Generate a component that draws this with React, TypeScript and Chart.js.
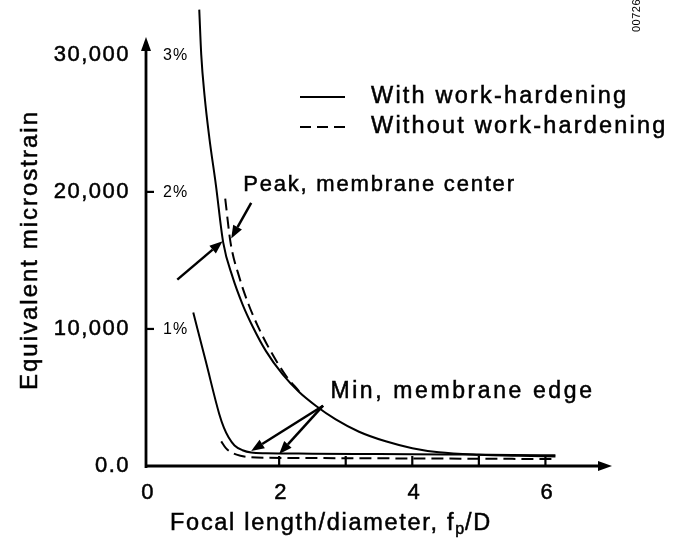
import { useEffect, useRef } from "react";
import { Chart, registerables } from "chart.js";

Chart.register(...registerables);

// Peak strain at membrane center, with work-hardening (solid)
const peakWithX = [0.8, 0.83, 0.88, 0.95, 1.05, 1.16, 1.3, 1.45, 1.6, 1.8, 2.05, 2.3, 2.55, 2.85, 3.2, 3.6, 4.0, 4.4, 5.0, 5.6, 6.15];
const peakWithY = [33300, 30000, 27000, 24000, 20500, 16300, 13800, 11800, 10200, 8400, 6700, 5400, 4400, 3400, 2500, 1800, 1300, 1000, 820, 740, 700];

// Peak strain at membrane center, without work-hardening (dashed)
const peakWithoutX = [1.19, 1.27, 1.4, 1.54, 1.68, 1.87, 2.1, 2.3];
const peakWithoutY = [19500, 16300, 13800, 11800, 10200, 8400, 6600, 5450];

// Minimum strain at membrane edge, with work-hardening (solid)
const minWithX = [0.71, 0.9, 1.1, 1.17, 1.24, 1.33, 1.45, 1.58, 1.8, 2.5, 3.5, 4.5, 5.5, 6.15];
const minWithY = [11200, 7600, 3800, 2800, 2100, 1500, 1150, 980, 930, 900, 870, 840, 810, 780];

// Minimum strain at membrane edge, without work-hardening (dashed)
const minWithoutX = [1.13, 1.2, 1.3, 1.42, 1.55, 1.8, 2.5, 3.5, 4.5, 5.5, 6.15];
const minWithoutY = [1800, 1300, 950, 750, 650, 600, 580, 560, 540, 520, 500];

const xTickValues = [0, 2, 4, 6];
const xTickLabels = ["0", "2", "4", "6"];
const xMarkValues = [2, 3, 4, 5, 6];
const yTickValues = [0, 10000, 20000, 30000];
const yTickLabels = ["0.0", "10,000", "20,000", "30,000"];
const strainPercentValues = [10000, 20000, 30000];
const strainPercentLabels = ["1%", "2%", "3%"];
const seriesNames = ["With work-hardening", "Without work-hardening"];
const peakLabel = "Peak, membrane center";
const minLabel = "Min, membrane edge";
const yTitle = "Equivalent microstrain";
const figureCode = "00726";

const FONT = '"Liberation Sans", Arial, Helvetica, sans-serif';
const INK = "#000";

function pts(xs: number[], ys: number[]) {
  return xs.map((x, i) => ({ x, y: ys[i] }));
}

function setFont(ctx: CanvasRenderingContext2D, size: number, spacing = 2) {
  ctx.font = `${size}px ${FONT}`;
  (ctx as any).letterSpacing = `${spacing}px`;
}

// filled text with a hairline outline so the strokes read a little heavier
function inkText(ctx: CanvasRenderingContext2D, text: string, x: number, y: number) {
  ctx.fillText(text, x, y);
  ctx.lineWidth = 0.5;
  ctx.setLineDash([]);
  ctx.strokeText(text, x, y);
}

function arrow(
  ctx: CanvasRenderingContext2D,
  x1: number, y1: number, x2: number, y2: number,
  head = 13, half = 5, width = 2.5
) {
  const a = Math.atan2(y2 - y1, x2 - x1);
  const bx = x2 - head * Math.cos(a);
  const by = y2 - head * Math.sin(a);
  ctx.strokeStyle = INK;
  ctx.fillStyle = INK;
  ctx.lineWidth = width;
  ctx.setLineDash([]);
  ctx.beginPath();
  ctx.moveTo(x1, y1);
  ctx.lineTo(bx, by);
  ctx.stroke();
  ctx.beginPath();
  ctx.moveTo(x2, y2);
  ctx.lineTo(bx + half * Math.sin(a), by - half * Math.cos(a));
  ctx.lineTo(bx - half * Math.sin(a), by + half * Math.cos(a));
  ctx.closePath();
  ctx.fill();
}

const annotations = {
  id: "strainAnnotations",
  beforeDraw(chart: any) {
    const { ctx, width, height } = chart;
    ctx.save();
    ctx.fillStyle = "#fff";
    ctx.fillRect(0, 0, width, height);
    ctx.restore();
  },
  afterDraw(chart: any) {
    const ctx: CanvasRenderingContext2D = chart.ctx;
    const xs = chart.scales.x;
    const ys = chart.scales.y;
    const px = (v: number) => xs.getPixelForValue(v);
    const py = (v: number) => ys.getPixelForValue(v);
    const x0 = px(0);
    const y0 = py(0);

    ctx.save();
    ctx.strokeStyle = INK;
    ctx.fillStyle = INK;
    ctx.lineCap = "butt";

    // axes with arrow heads
    arrow(ctx, x0, y0 + 2, x0, py(31300), 14, 5, 2.8);
    arrow(ctx, x0 - 1, y0, px(7), y0, 14, 5, 2.8);

    // x marks rising from the axis
    ctx.lineWidth = 2.2;
    xMarkValues.forEach((v) => {
      ctx.beginPath();
      ctx.moveTo(px(v), y0);
      ctx.lineTo(px(v), y0 - 10);
      ctx.stroke();
    });
    // y marks to the right of the axis
    [10000, 20000].forEach((v) => {
      ctx.beginPath();
      ctx.moveTo(x0, py(v));
      ctx.lineTo(x0 + 8, py(v));
      ctx.stroke();
    });

    // tick labels
    setFont(ctx, 22, 1.5);
    ctx.textAlign = "right";
    ctx.textBaseline = "middle";
    yTickValues.forEach((v, i) => inkText(ctx, yTickLabels[i], x0 - 16, py(v)));
    ctx.textAlign = "center";
    xTickValues.forEach((v, i) => inkText(ctx, xTickLabels[i], px(v) + 2, y0 + 27));

    // strain percentage labels
    setFont(ctx, 16, 1);
    ctx.textAlign = "left";
    strainPercentValues.forEach((v, i) => ctx.fillText(strainPercentLabels[i], x0 + 17, py(v) + 1));

    // axis titles
    setFont(ctx, 24, 2);
    ctx.textBaseline = "middle";
    ctx.save();
    ctx.translate(30, 250);
    ctx.rotate(-Math.PI / 2);
    ctx.textAlign = "center";
    inkText(ctx, yTitle, 0, 0);
    ctx.restore();

    const t1 = "Focal length/diameter, f";
    const t2 = "p";
    const t3 = "/D";
    setFont(ctx, 23.5, 1.7);
    const w1 = ctx.measureText(t1).width;
    const w3 = ctx.measureText(t3).width;
    setFont(ctx, 16, 1);
    const w2 = ctx.measureText(t2).width;
    let tx = 331 - (w1 + w2 + w3) / 2;
    ctx.textAlign = "left";
    setFont(ctx, 23.5, 1.7);
    inkText(ctx, t1, tx, 524);
    tx += w1;
    setFont(ctx, 16, 1);
    inkText(ctx, t2, tx, 530);
    tx += w2;
    setFont(ctx, 23.5, 1.7);
    inkText(ctx, t3, tx, 524);

    // legend
    ctx.lineWidth = 2;
    ctx.setLineDash([]);
    ctx.beginPath();
    ctx.moveTo(300, 97);
    ctx.lineTo(345, 97);
    ctx.stroke();
    ctx.setLineDash([11, 6]);
    ctx.beginPath();
    ctx.moveTo(300, 127);
    ctx.lineTo(345, 127);
    ctx.stroke();
    ctx.setLineDash([]);
    setFont(ctx, 23.5, 2.2);
    ctx.textAlign = "left";
    inkText(ctx, seriesNames[0], 371, 97);
    inkText(ctx, seriesNames[1], 371, 127);

    // curve call-outs
    setFont(ctx, 22, 1.8);
    inkText(ctx, peakLabel, px(1.46), py(20500));
    setFont(ctx, 23, 2.6);
    inkText(ctx, minLabel, px(2.77), py(5400));
    arrow(ctx, px(0.47), py(13600), px(1.15), py(16400));
    arrow(ctx, px(1.58), py(19200), px(1.28), py(16600));
    arrow(ctx, px(2.66), py(4400), px(1.58), py(1100));
    arrow(ctx, px(2.66), py(4400), px(2.0), py(880));

    // figure code
    ctx.save();
    setFont(ctx, 11, 0.5);
    ctx.translate(640, 32);
    ctx.rotate(-Math.PI / 2);
    ctx.textAlign = "left";
    ctx.textBaseline = "alphabetic";
    ctx.fillText(figureCode, 0, 0);
    ctx.restore();

    ctx.restore();
  },
};

export default function App() {
  const ref = useRef<HTMLCanvasElement | null>(null);

  useEffect(() => {
    if (!ref.current) return;
    const line = (data: { x: number; y: number }[], dashed: boolean) => ({
      data,
      borderColor: INK,
      borderWidth: 2,
      borderDash: dashed ? [12, 6] : [],
      pointRadius: 0,
      showLine: true,
      fill: false,
      cubicInterpolationMode: "monotone" as const,
      clip: false as const,
    });
    const chart = new Chart(ref.current, {
      type: "scatter",
      data: {
        datasets: [
          { label: seriesNames[0], ...line(pts(peakWithX, peakWithY), false) },
          { label: seriesNames[1], ...line(pts(peakWithoutX, peakWithoutY), true) },
          { label: seriesNames[0], ...line(pts(minWithX, minWithY), false) },
          { label: seriesNames[1], ...line(pts(minWithoutX, minWithoutY), true) },
        ],
      },
      options: {
        responsive: false,
        animation: false,
        events: [],
        layout: { padding: { left: 146, right: 74, top: 0, bottom: 78 } },
        plugins: { legend: { display: false }, tooltip: { enabled: false } },
        scales: {
          x: { type: "linear", min: 0, max: 7, display: false },
          y: { type: "linear", min: 0, max: 34000, display: false },
        },
      },
      plugins: [annotations],
    });
    return () => chart.destroy();
  }, []);

  return (
    <div style={{ position: "fixed", left: 0, top: 0, width: 686, height: 544, background: "#fff" }}>
      <canvas ref={ref} width={686} height={544} style={{ display: "block" }} />
    </div>
  );
}
